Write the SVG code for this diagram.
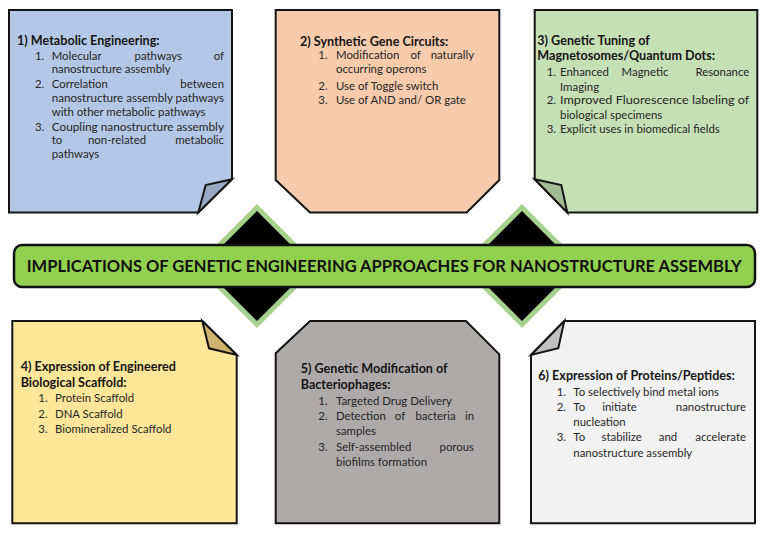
<svg xmlns="http://www.w3.org/2000/svg" width="767" height="533" viewBox="0 0 767 533">
<style>
.box{stroke:#141414;stroke-width:2;stroke-linejoin:miter}
.fold{stroke:#141414;stroke-width:2;stroke-linejoin:miter}
.t{font-family:Lato,"Liberation Sans",sans-serif;font-weight:bold;font-size:12.6px;fill:#151515}
.l{font-family:Lato,"Liberation Sans",sans-serif;font-size:11.4px;fill:#262626}
.e{text-anchor:end}
.m{text-anchor:middle}
.bar{font-family:Lato,"Liberation Sans",sans-serif;font-weight:bold;font-size:17px;fill:#111}
</style>
<rect width="767" height="533" fill="#fff"/>
<g id="connectors">
  <polygon points="257,204 319,266 257,328 195,266" fill="#a9d18e"/>
  <polygon points="257,211 312,266 257,321 202,266" fill="#000"/>
  <polygon points="522,204 584,266 522,328 460,266" fill="#a9d18e"/>
  <polygon points="522,211 577,266 522,321 467,266" fill="#000"/>
</g>
<g id="node1">
  <polygon class="box" fill="#b4c7e7" points="9,10 232,10 232,179.3 198.3,212.5 9,212.5"/>
  <polygon class="fold" fill="#98a9c4" points="232,179.3 205.7,185 198.3,212.5"/>
  <text class="t" x="17" y="45">1) Metabolic Engineering:</text>
  <text class="l"><tspan x="35" y="60">1.</tspan><tspan x="51.7" y="60">Molecular</tspan><tspan x="158.3" y="60" class="m">pathways</tspan><tspan x="224" y="60" class="e">of</tspan></text>
  <text class="l" x="51.7" y="73.3">nanostructure assembly</text>
  <text class="l"><tspan x="35" y="88">2.</tspan><tspan x="51.7" y="88">Correlation</tspan><tspan x="224" y="88" class="e">between</tspan></text>
  <text class="l" x="51.7" y="101.7" textLength="172.3" lengthAdjust="spacingAndGlyphs">nanostructure assembly pathways</text>
  <text class="l" x="51.7" y="115.7">with other metabolic pathways</text>
  <text class="l"><tspan x="35" y="130.7">3.</tspan><tspan x="51.7" y="130.7" textLength="172.3" lengthAdjust="spacingAndGlyphs">Coupling nanostructure assembly</tspan></text>
  <text class="l"><tspan x="51.7" y="144.3">to</tspan><tspan x="117" y="144.3" class="m">non-related</tspan><tspan x="224" y="144.3" class="e">metabolic</tspan></text>
  <text class="l" x="51.7" y="157.7">pathways</text>
</g>
<g id="node2">
  <polygon class="box" fill="#f8cbad" points="275.7,10 499.3,10 499.3,180 466.7,212.5 310,212.5 275.7,180"/>
  <text class="t" x="300" y="45.7">2) Synthetic Gene Circuits:</text>
  <text class="l"><tspan x="318.3" y="59.3">1.</tspan><tspan x="336" y="59.3">Modification</tspan><tspan x="415.7" y="59.3" class="m">of</tspan><tspan x="474" y="59.3" class="e">naturally</tspan></text>
  <text class="l" x="336" y="73.3">occurring operons</text>
  <text class="l"><tspan x="318.3" y="89.7">2.</tspan><tspan x="336" y="89.7">Use of Toggle switch</tspan></text>
  <text class="l"><tspan x="318.3" y="104">3.</tspan><tspan x="336" y="104">Use of AND and/ OR gate</tspan></text>
</g>
<g id="node3">
  <polygon class="box" fill="#c5e0b4" points="534.7,10 757.3,10 757.3,212.5 567.3,212.5 534.7,179.3"/>
  <polygon class="fold" fill="#a3bc95" points="534.7,179.3 561.3,185 567.3,212.5"/>
  <text class="t" x="537.3" y="45">3) Genetic Tuning of</text>
  <text class="t" x="537.3" y="60">Magnetosomes/Quantum Dots:</text>
  <text class="l"><tspan x="546.7" y="76.3">1.</tspan><tspan x="560" y="76.3">Enhanced</tspan><tspan x="645" y="76.3" class="m">Magnetic</tspan><tspan x="749.3" y="76.3" class="e">Resonance</tspan></text>
  <text class="l" x="560" y="90.7">Imaging</text>
  <text class="l"><tspan x="546.7" y="104.3">2.</tspan><tspan x="560" y="104.3" textLength="189.3" lengthAdjust="spacingAndGlyphs">Improved Fluorescence labeling of</tspan></text>
  <text class="l" x="560" y="119">biological specimens</text>
  <text class="l"><tspan x="546.7" y="132.7">3.</tspan><tspan x="560" y="132.7">Explicit uses in biomedical fields</tspan></text>
</g>
<g id="center">
  <rect x="14" y="245" width="741" height="42" rx="8" fill="#92d050" stroke="#111" stroke-width="2.5"/>
  <text class="bar" x="26.7" y="271.5" textLength="715" lengthAdjust="spacingAndGlyphs">IMPLICATIONS OF GENETIC ENGINEERING APPROACHES FOR NANOSTRUCTURE ASSEMBLY</text>
</g>
<g id="node4">
  <polygon class="box" fill="#ffe699" points="12.3,321 202.3,321 236.7,355 236.7,523.3 12.3,523.3"/>
  <polygon class="fold" fill="#cfb46e" points="202.3,321 209,348.3 236.7,355"/>
  <text class="t" x="20.7" y="371">4) Expression of Engineered</text>
  <text class="t" x="20.7" y="387">Biological Scaffold:</text>
  <text class="l"><tspan x="38.3" y="402.3">1.</tspan><tspan x="55" y="402.3">Protein Scaffold</tspan></text>
  <text class="l"><tspan x="38.3" y="417.7">2.</tspan><tspan x="55" y="417.7">DNA Scaffold</tspan></text>
  <text class="l"><tspan x="38.3" y="433">3.</tspan><tspan x="55" y="433">Biomineralized Scaffold</tspan></text>
</g>
<g id="node5">
  <polygon class="box" fill="#aeaaaa" points="310,321 466,321 499.3,354.3 499.3,523.3 275.7,523.3 275.7,353.3"/>
  <text class="t" x="300.7" y="373.3">5) Genetic Modification of</text>
  <text class="t" x="300.7" y="389">Bacteriophages:</text>
  <text class="l"><tspan x="318.3" y="404.7">1.</tspan><tspan x="336" y="404.7">Targeted Drug Delivery</tspan></text>
  <text class="l"><tspan x="318.3" y="419.7">2.</tspan><tspan x="336" y="419.7">Detection</tspan><tspan x="400" y="419.7" class="m">of</tspan><tspan x="435.5" y="419.7" class="m">bacteria</tspan><tspan x="474" y="419.7" class="e">in</tspan></text>
  <text class="l" x="336" y="435">samples</text>
  <text class="l"><tspan x="318.3" y="450.7">3.</tspan><tspan x="336" y="450.7">Self-assembled</tspan><tspan x="474" y="450.7" class="e">porous</tspan></text>
  <text class="l" x="336" y="465.7">biofilms formation</text>
</g>
<g id="node6">
  <polygon class="box" fill="#f2f2f2" points="564.3,321 755,321 755,523.3 531,523.3 531,355"/>
  <polygon class="fold" fill="#c0c0c0" points="564.3,321 558.3,348.3 531,355"/>
  <text class="t" x="538.3" y="380">6) Expression of Proteins/Peptides:</text>
  <text class="l"><tspan x="556.7" y="395.7">1.</tspan><tspan x="573.3" y="395.7">To selectively bind metal ions</tspan></text>
  <text class="l"><tspan x="556.7" y="410.7">2.</tspan><tspan x="573.3" y="410.7">To</tspan><tspan x="619.5" y="410.7" class="m">initiate</tspan><tspan x="746" y="410.7" class="e">nanostructure</tspan></text>
  <text class="l" x="573.3" y="425.7">nucleation</text>
  <text class="l"><tspan x="556.7" y="441.3">3.</tspan><tspan x="573.3" y="441.3">To</tspan><tspan x="621.7" y="441.3" class="m">stabilize</tspan><tspan x="668" y="441.3" class="m">and</tspan><tspan x="746" y="441.3" class="e">accelerate</tspan></text>
  <text class="l" x="573.3" y="457.3">nanostructure assembly</text>
</g>
</svg>
